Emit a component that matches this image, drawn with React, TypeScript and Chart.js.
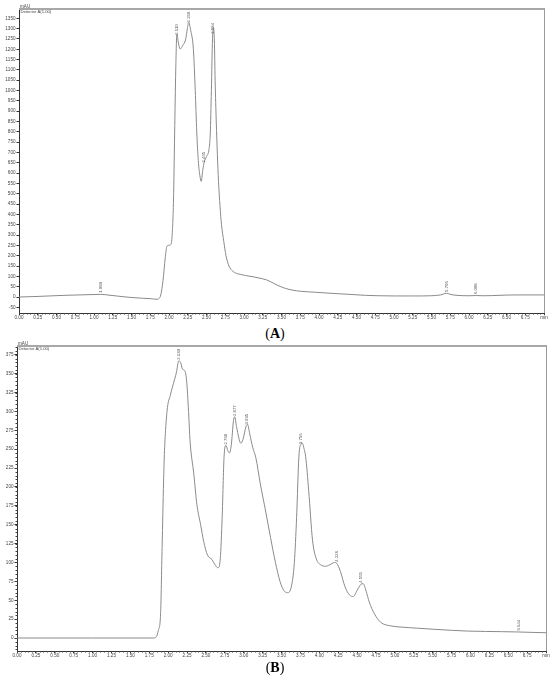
import React, { useEffect, useRef } from "react";
import { Chart, registerables } from "chart.js";

Chart.register(...registerables);

// ---------- Data (A) ----------
const timesA = [
  0.0, 0.2, 0.4, 0.6, 0.8, 1.0, 1.09, 1.2, 1.3, 1.4, 1.52, 1.65, 1.75, 1.84, 1.87, 1.89,
  1.92, 1.95, 1.97, 1.99, 2.02, 2.04, 2.06, 2.075, 2.09, 2.105, 2.125, 2.15, 2.185, 2.22,
  2.245, 2.262, 2.29, 2.325, 2.35, 2.37, 2.39, 2.415, 2.43, 2.45, 2.47, 2.5, 2.535, 2.55,
  2.565, 2.58, 2.592, 2.605, 2.615, 2.63, 2.645, 2.66, 2.68, 2.7, 2.73, 2.76, 2.8, 2.85,
  2.9, 2.95, 3.02, 3.12, 3.2, 3.3, 3.35, 3.44, 3.55, 3.65, 3.75, 3.95, 4.2, 4.4, 4.62,
  4.8, 5.02, 5.25, 5.49, 5.62, 5.7, 5.76, 5.84, 6.0, 6.09, 6.2, 6.4, 6.6, 6.8, 7.0,
];
const valuesA = [
  0, 2, 5, 8, 10, 12, 13, 9, 5, 1, -3, -6, -8, -11, -6, 10,
  80, 190, 243, 250, 253, 290, 470, 790, 1100, 1274, 1230, 1201, 1220, 1245,
  1300, 1330, 1290, 1200, 1000, 800, 662, 580, 560, 614, 654, 680, 720, 790,
  1000, 1250, 1305, 1240, 1050, 850, 690, 560, 440, 350, 270, 200, 150, 125,
  114, 110, 104, 98, 92, 83, 75, 58, 42, 33, 28, 23, 17, 13, 8,
  6, 5, 5, 6, 10, 18, 12, 8, 6, 7, 6, 8, 10, 10, 10,
];
const peakTimesA = [1.089, 2.11, 2.258, 2.465, 2.584, 5.706, 6.088];
const peakLabelsA = ["1.089", "2.110", "2.258", "2.465", "2.584", "5.706", "6.088"];

// ---------- Data (B) ----------
const timesB = [
  0.0, 1.0, 1.8, 1.84, 1.87, 1.9, 1.92, 1.94, 1.95, 1.985, 2.03, 2.07, 2.11, 2.14, 2.165,
  2.19, 2.22, 2.245, 2.27, 2.29, 2.34, 2.38, 2.43, 2.47, 2.52, 2.58, 2.62, 2.66, 2.69,
  2.715, 2.74, 2.765, 2.79, 2.81, 2.835, 2.865, 2.88, 2.905, 2.935, 2.96, 2.99, 3.03,
  3.05, 3.08, 3.12, 3.16, 3.22, 3.29, 3.355, 3.42, 3.48, 3.53, 3.58, 3.63, 3.67, 3.7,
  3.73, 3.76, 3.775, 3.8, 3.82, 3.86, 3.91, 3.96, 4.02, 4.08, 4.14, 4.2, 4.23, 4.28,
  4.34, 4.4, 4.45, 4.5, 4.55, 4.58, 4.62, 4.66, 4.73, 4.81, 4.95, 5.08, 5.3, 5.52,
  5.75, 5.96, 6.2, 6.41, 6.64, 6.8, 7.0,
];
const valuesB = [
  0, 0, 0, 1, 10, 32, 120, 208, 243, 300, 322, 337, 352, 367, 365,
  356, 354, 340, 300, 261, 217, 177, 150, 128, 110, 104, 97, 93, 105,
  160, 240, 255, 248, 245, 255, 288, 293, 280, 265, 258, 263, 280,
  283, 270, 252, 239, 204, 168, 133, 100, 75, 63, 60, 68, 100, 160,
  240, 257, 258, 250, 240, 195, 130, 105, 97, 95, 97, 100, 99, 88,
  68, 57, 55, 63, 71, 72, 62, 48, 32, 21, 16, 14.5, 13, 11.5,
  10.2, 9.2, 8.7, 8.4, 8, 7.5, 7,
];
const peakTimesB = [2.139, 2.768, 2.877, 3.035, 3.756, 4.226, 4.555, 6.644];
const peakLabelsB = ["2.139", "2.768", "2.877", "3.035", "3.756", "4.226", "4.555", "6.644"];

// ---------- Texts ----------
const yUnit = "mAU";
const xUnit = "min";
const detectorText = "Detector A(1.00)";
const captionA = "A";
const captionB = "B";

const FONT = "'Liberation Sans', Arial, sans-serif";

function interp(ts: number[], vs: number[], t: number): number {
  for (let i = 0; i < ts.length - 1; i++) {
    if (t >= ts[i] && t <= ts[i + 1]) {
      const f = (t - ts[i]) / (ts[i + 1] - ts[i]);
      return vs[i] + f * (vs[i + 1] - vs[i]);
    }
  }
  return vs[vs.length - 1];
}

const decorPlugin = {
  id: "decor",
  afterDraw(chart: any, _args: any, opts: any) {
    const { ctx, chartArea: ca, scales } = chart;
    const x = scales.x;
    const y = scales.y;
    ctx.save();
    // top border
    ctx.strokeStyle = "#a8a8a8";
    ctx.lineWidth = 2;
    ctx.beginPath();
    ctx.moveTo(ca.left, ca.top);
    ctx.lineTo(ca.right + 1, ca.top);
    ctx.stroke();
    // right border
    ctx.strokeStyle = "#9a9a9a";
    ctx.lineWidth = 1;
    const rx = Math.round(ca.right) + 0.5;
    ctx.beginPath();
    ctx.moveTo(rx, ca.top);
    ctx.lineTo(rx, ca.bottom);
    ctx.stroke();
    // minor ticks on x
    ctx.strokeStyle = "#444";
    ctx.beginPath();
    const nX = Math.round((x.max - x.min) / opts.minorX);
    for (let k = 0; k <= nX; k++) {
      const v = x.min + k * opts.minorX;
      const px = Math.round(x.getPixelForValue(v)) + 0.5;
      ctx.moveTo(px, ca.bottom);
      ctx.lineTo(px, ca.bottom + 1.5);
    }
    ctx.stroke();
    // minor ticks on y
    if (opts.minorY) {
      ctx.beginPath();
      const start = Math.ceil(y.min / opts.minorY) * opts.minorY;
      for (let v = start; v <= y.max; v += opts.minorY) {
        const py = Math.round(y.getPixelForValue(v)) + 0.5;
        ctx.moveTo(ca.left - 1.5, py);
        ctx.lineTo(ca.left, py);
      }
      ctx.stroke();
    }
    // unit + detector legend
    ctx.fillStyle = "#444";
    ctx.font = `4.6px ${FONT}`;
    ctx.textAlign = "left";
    ctx.textBaseline = "alphabetic";
    ctx.fillText(opts.yUnit, ca.left + 1, ca.top - 1.5);
    ctx.font = `4.2px ${FONT}`;
    ctx.textBaseline = "middle";
    ctx.fillText(opts.detector, ca.left + 1.5, ca.top + 3);
    // peak labels
    ctx.fillStyle = "#555";
    ctx.font = `4.3px ${FONT}`;
    ctx.textAlign = "left";
    ctx.textBaseline = "middle";
    opts.peakTimes.forEach((t: number, i: number) => {
      const px = x.getPixelForValue(t);
      const py = y.getPixelForValue(interp(opts.times, opts.values, t));
      ctx.save();
      ctx.translate(px, py - 1.5);
      ctx.rotate(-Math.PI / 2);
      ctx.fillText(opts.peakLabels[i], 0, 0);
      ctx.restore();
    });
    ctx.restore();
  },
};

type Props = {
  times: number[];
  values: number[];
  peakTimes: number[];
  peakLabels: string[];
  yMin: number;
  yMax: number;
  yStep: number;
  minorY: number;
  top: number;
  height: number;
  padTop: number;
  padRight: number;
  yWidth: number;
  xHeight: number;
};

function Chromatogram(p: Props) {
  const ref = useRef<HTMLCanvasElement | null>(null);
  useEffect(() => {
    if (!ref.current) return;
    const chart = new Chart(ref.current, {
      type: "line",
      data: {
        datasets: [
          {
            data: p.times.map((t, i) => ({ x: t, y: p.values[i] })),
            borderColor: "#8a8a8a",
            borderWidth: 1,
            pointRadius: 0,
            cubicInterpolationMode: "monotone",
            fill: false,
          },
        ],
      },
      options: {
        animation: false,
        responsive: false,
        maintainAspectRatio: false,
        layout: { padding: { top: p.padTop, right: p.padRight, left: 0, bottom: 0 } },
        plugins: {
          legend: { display: false },
          tooltip: { enabled: false },
          decor: {
            minorX: 0.05,
            minorY: p.minorY,
            yUnit,
            detector: detectorText,
            peakTimes: p.peakTimes,
            peakLabels: p.peakLabels,
            times: p.times,
            values: p.values,
          },
        } as any,
        scales: {
          x: {
            type: "linear",
            min: 0,
            max: 7,
            afterFit: (s: any) => {
              s.height = p.xHeight;
              s.paddingLeft = 0;
              s.paddingRight = 0;
            },
            ticks: {
              stepSize: 0.25,
              autoSkip: false,
              maxRotation: 0,
              minRotation: 0,
              includeBounds: false,
              padding: 0,
              color: "#444",
              font: { family: FONT, size: 4.6 },
              callback: (v: any) => (Math.abs(v - 7) < 1e-9 ? xUnit : Number(v).toFixed(2)),
            },
            grid: { drawOnChartArea: false, tickLength: 2, color: "#333" },
            border: { color: "#333", width: 1 },
          },
          y: {
            type: "linear",
            min: p.yMin,
            max: p.yMax,
            afterFit: (s: any) => {
              s.width = p.yWidth;
              s.paddingTop = 0;
              s.paddingBottom = 0;
            },
            ticks: {
              stepSize: p.yStep,
              includeBounds: false,
              padding: 1,
              color: "#444",
              font: { family: FONT, size: 4.6 },
              callback: (v: any) => String(v),
            },
            grid: { drawOnChartArea: false, tickLength: 2.5, color: "#333" },
            border: { color: "#333", width: 1 },
          },
        },
      },
      plugins: [decorPlugin],
    } as any);
    return () => chart.destroy();
  }, []);
  return (
    <canvas
      ref={ref}
      width={550}
      height={p.height}
      style={{ position: "absolute", left: 0, top: p.top, width: 550, height: p.height }}
    />
  );
}

const captionStyle: React.CSSProperties = {
  position: "absolute",
  left: 0,
  width: 550,
  height: 18,
  lineHeight: "18px",
  textAlign: "center",
  fontFamily: "'Liberation Serif', 'Times New Roman', serif",
  fontSize: 14,
  color: "#000",
};

export default function App() {
  return (
    <div style={{ position: "absolute", left: 0, top: 0, width: 550, height: 680, background: "#fff" }}>
      <Chromatogram
        times={timesA}
        values={valuesA}
        peakTimes={peakTimesA}
        peakLabels={peakLabelsA}
        yMin={-77.5}
        yMax={1395}
        yStep={50}
        minorY={0}
        top={0}
        height={322}
        padTop={9}
        padRight={6}
        yWidth={19}
        xHeight={9}
      />
      <div style={{ ...captionStyle, top: 325 }}>
        (<b>{captionA}</b>)
      </div>
      <Chromatogram
        times={timesB}
        values={valuesB}
        peakTimes={peakTimesB}
        peakLabels={peakLabelsB}
        yMin={-17.2}
        yMax={386.7}
        yStep={25}
        minorY={5}
        top={322}
        height={338}
        padTop={24}
        padRight={4}
        yWidth={17}
        xHeight={9}
      />
      <div style={{ ...captionStyle, top: 659 }}>
        (<b>{captionB}</b>)
      </div>
    </div>
  );
}
